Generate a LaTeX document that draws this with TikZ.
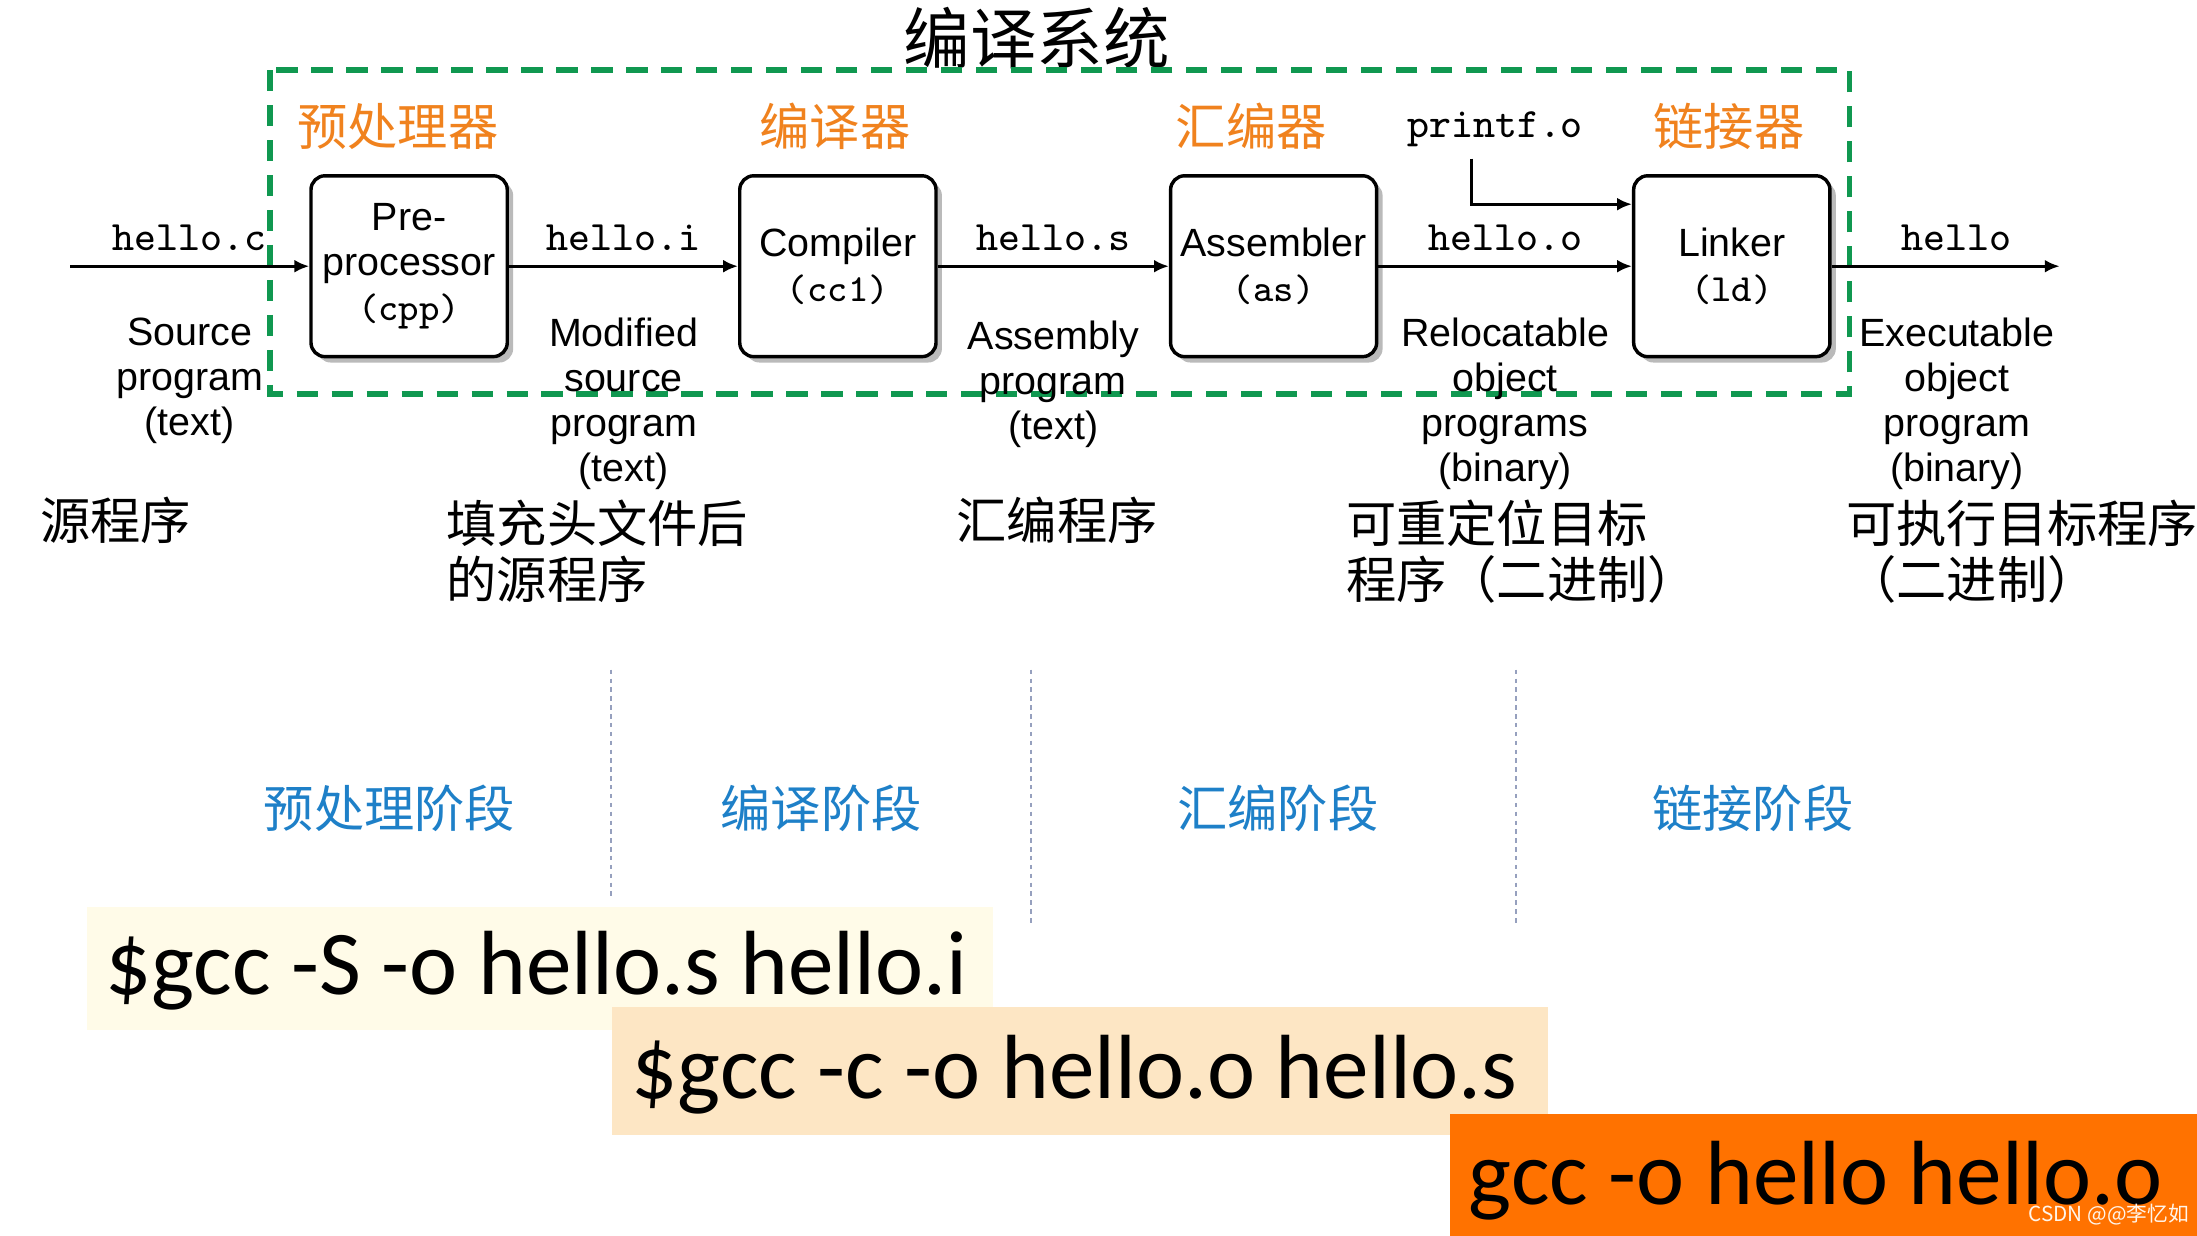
\documentclass[tikz,border=0pt]{standalone}
\usepackage{fontspec}
\setmainfont{Liberation Sans}
\newfontfamily\cjk{Noto Sans CJK SC}
\newfontfamily\cmdfont{Carlito}
\usetikzlibrary{arrows.meta,positioning,shadows}
\definecolor{sysgreen}{RGB}{16,152,80}
\definecolor{toolorange}{RGB}{240,130,30}
\definecolor{phaseblue}{RGB}{30,128,200}
\definecolor{stagegray}{RGB}{150,160,190}
\definecolor{cmdyellow}{RGB}{255,251,232}
\definecolor{cmdpeach}{RGB}{253,230,196}
\definecolor{cmdorange}{RGB}{255,114,0}
\tikzset{
    unit/.style={draw,line width=0.7pt,rounded corners=0.1cm,minimum width=1.4cm,minimum height=1.29cm,align=center,inner sep=0pt,fill=white,font=\fontsize{8}{9.1}\selectfont,drop shadow={shadow xshift=1.2pt,shadow yshift=-1.2pt,fill=black!45,opacity=0.6}},
    flow/.style={line width=0.6pt,-{Latex[length=3pt,width=2.6pt]}},
    fname/.style={font=\ttfamily\fontsize{8.5}{9}\selectfont,inner sep=0pt},
    desc/.style={font=\fontsize{8}{9.1}\selectfont,align=center,inner sep=0pt},
    tool/.style={font=\cjk\fontsize{10.2}{11}\selectfont,text=toolorange},
    phase/.style={font=\cjk\fontsize{10.2}{11}\selectfont,text=phaseblue},
    note/.style={font=\cjk\fontsize{10.2}{11.4}\selectfont,align=left,anchor=north west,inner sep=0pt},
    stage/.style={draw=stagegray,line width=0.35pt,dash pattern=on 0.9pt off 0.9pt},
    cmd/.style={font=\cmdfont\fontsize{18.5}{20}\selectfont,inner sep=0pt}
}
\newcommand{\unitcode}[1]{{\ttfamily\fontsize{7.8}{9.1}\selectfont #1}}
\begin{document}
\begin{tikzpicture}[x=0.01cm,y=-0.01cm]
    \useasboundingbox (0,0) rectangle (1568,882);
    \node[font=\cjk\fontsize{13.5}{14}\selectfont] (title) at (740,27) {编译系统};
    \draw[draw=sysgreen,line width=1.2pt,dash pattern=on 4.3pt off 2.8pt] (193,50) rectangle (1320,281);
    \node[tool] (t1) at (284,90) {预处理器};
    \node[tool] (t2) at (596,90) {编译器};
    \node[tool] (t3) at (893,90) {汇编器};
    \node[tool] (t4) at (1234,90) {链接器};
    \node[unit] (pre) at (292,190) {Pre-\\processor\\\unitcode{(cpp)}};
    \node[unit] (cc) at (598,190) {Compiler\\\unitcode{(cc1)}};
    \node[unit,minimum width=1.47cm] (as) at (909,190) {Assembler\\\unitcode{(as)}};
    \node[unit] (ld) at (1236,190) {Linker\\\unitcode{(ld)}};
    \coordinate (src) at (50,190);
    \coordinate (exe) at (1470,190);
    \draw[flow] (src) -- (pre) node[fname,midway,above=0.1cm] {hello.c} node[desc,midway,below=0.36cm] {Source\\program\\(text)};
    \draw[flow] (pre) -- (cc) node[fname,midway,above=0.1cm] {hello.i} node[desc,midway,below=0.36cm] {Modified\\source\\program\\(text)};
    \draw[flow] (cc) -- (as) node[fname,midway,above=0.1cm] {hello.s} node[desc,midway,below=0.38cm] {Assembly\\program\\(text)};
    \draw[flow] (as) -- (ld) node[fname,midway,above=0.1cm] {hello.o} node[desc,midway,below=0.36cm] {Relocatable\\object\\programs\\(binary)};
    \draw[flow] (ld) -- (exe) node[fname,midway,above=0.1cm,xshift=0.08cm] {hello} node[desc,midway,below=0.36cm,xshift=0.08cm] {Executable\\object\\program\\(binary)};
    \node[fname] (pf) at (1067,92) {printf.o};
    \coordinate (tap) at ([xshift=-0.17cm,yshift=-0.08cm]pf.south);
    \draw[flow] (tap) |- ([yshift=-0.215cm]ld.north west);
    \node[note] (n1) at (28,354) {源程序};
    \node[note] (n2) at (318,356) {填充头文件后\\的源程序};
    \node[note] (n3) at (682,354) {汇编程序};
    \node[note] (n4) at (960,356) {可重定位目标\\程序（二进制）};
    \node[note] (n5) at (1317,356) {可执行目标程序\\（二进制）};
    \draw[stage] (436,478) -- (436,640);
    \draw[stage] (736,478) -- (736,660);
    \draw[stage] (1082,478) -- (1082,660);
    \node[phase] (p1) at (278,577) {预处理阶段};
    \node[phase] (p2) at (586,577) {编译阶段};
    \node[phase] (p3) at (912,577) {汇编阶段};
    \node[phase] (p4) at (1251,577) {链接阶段};
    \fill[cmdyellow] (62,647) rectangle (709,735);
    \node[cmd] (c1) at (383,693) {\$gcc -S -o hello.s hello.i};
    \fill[cmdpeach] (437,719) rectangle (1105,810);
    \node[cmd] (c2) at (767,767) {\$gcc -c -o hello.o hello.s};
    \fill[cmdorange] (1035,795) rectangle (1568,882);
    \node[cmd] (c3) at (1296,843) {gcc -o hello hello.o};
    \node[font=\cjk\fontsize{4.2}{5}\selectfont,text=white!92!orange] (mark) at (1505,867) {CSDN @@李忆如};
\end{tikzpicture}
\end{document}
